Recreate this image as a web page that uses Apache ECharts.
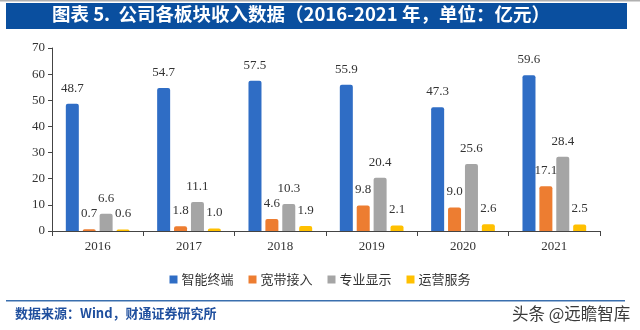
<!DOCTYPE html>
<html>
<head>
<meta charset="utf-8">
<script src="https://cdn.jsdelivr.net/npm/echarts@6/dist/echarts.min.js"></script>
<style>
html,body{margin:0;padding:0;background:#fff;}
#c{width:640px;height:330px;}
</style>
</head>
<body>
<div id="c"></div>
<script>
var categories = ['2016', '2017', '2018', '2019', '2020', '2021'];
var seriesNames = ['智能终端', '宽带接入', '专业显示', '运营服务'];
var terminal = [48.7, 54.7, 57.5, 55.9, 47.3, 59.6];
var broadband = [0.7, 1.8, 4.6, 9.8, 9.0, 17.1];
var display = [6.6, 11.1, 10.3, 20.4, 25.6, 28.4];
var service = [0.6, 1.0, 1.9, 2.1, 2.6, 2.5];
var titleText = '图表 5.  公司各板块收入数据（2016-2021 年，单位：亿元）';
var sourceText = '数据来源：Wind，财通证券研究所';
var watermark = '头条 @远瞻智库';

var colors = ['#2f6dc5', '#ed7d31', '#a5a5a5', '#ffc000'];
var serif = '"Liberation Serif", "Times New Roman", serif';
var cjk = '"Noto Sans CJK SC", sans-serif';

function mk(name, data, color) {
  return {
    name: name,
    type: 'bar',
    data: data,
    barWidth: 13,
    barGap: '30%',
    itemStyle: { color: color, borderRadius: [2, 2, 0, 0] },
    label: {
      show: true,
      position: 'top',
      distance: 9,
      formatter: function (p) { return p.value.toFixed(1); },
      fontFamily: serif,
      fontSize: 13,
      color: '#333'
    }
  };
}

var chart = echarts.init(document.getElementById('c'), null, { renderer: 'canvas' });
chart.setOption({
  animation: false,
  color: colors,
  grid: { left: 52, right: 40, top: 48, bottom: 99 },
  legend: {
    data: seriesNames,
    top: 268,
    left: 'center',
    itemWidth: 8,
    itemHeight: 8,
    itemGap: 15,
    icon: 'rect',
    textStyle: { fontFamily: cjk, fontSize: 13, color: '#333', padding: [0, 0, 0, -1] }
  },
  xAxis: {
    type: 'category',
    data: categories,
    axisLine: { lineStyle: { color: '#444', width: 1 } },
    axisTick: { show: true, length: 5, lineStyle: { color: '#444' } },
    axisLabel: { fontFamily: serif, fontSize: 13, color: '#333', margin: 9 }
  },
  yAxis: {
    type: 'value',
    min: 0,
    max: 70,
    interval: 10,
    axisLine: { show: true, lineStyle: { color: '#444', width: 1 } },
    axisTick: { show: true, length: 4, lineStyle: { color: '#444' } },
    splitLine: { show: false },
    axisLabel: { fontFamily: serif, fontSize: 13, color: '#333', margin: 7 }
  },
  series: [
    mk(seriesNames[0], terminal, colors[0]),
    mk(seriesNames[1], broadband, colors[1]),
    mk(seriesNames[2], display, colors[2]),
    mk(seriesNames[3], service, colors[3])
  ],
  graphic: [
    { type: 'rect', shape: { x: 0, y: 0, width: 640, height: 1.5 }, style: { fill: '#b0b0b0' } },
    { type: 'rect', shape: { x: 6, y: 3, width: 621, height: 26 }, style: { fill: '#0a4f9f' } },
    { type: 'text', left: 52, top: 5, style: { text: titleText, fill: '#fff', font: 'bold 18.5px ' + cjk } },
    { type: 'rect', shape: { x: 6, y: 300, width: 619, height: 1.5 }, style: { fill: '#3a6fae' } },
    { type: 'text', left: 15, top: 307, style: { text: sourceText, fill: '#1f4f9e', font: 'bold 13px ' + cjk } },
    { type: 'text', left: 512, top: 305, style: { text: watermark, fill: '#3a3a3a', font: '16.5px ' + cjk } }
  ]
});
</script>
</body>
</html>
